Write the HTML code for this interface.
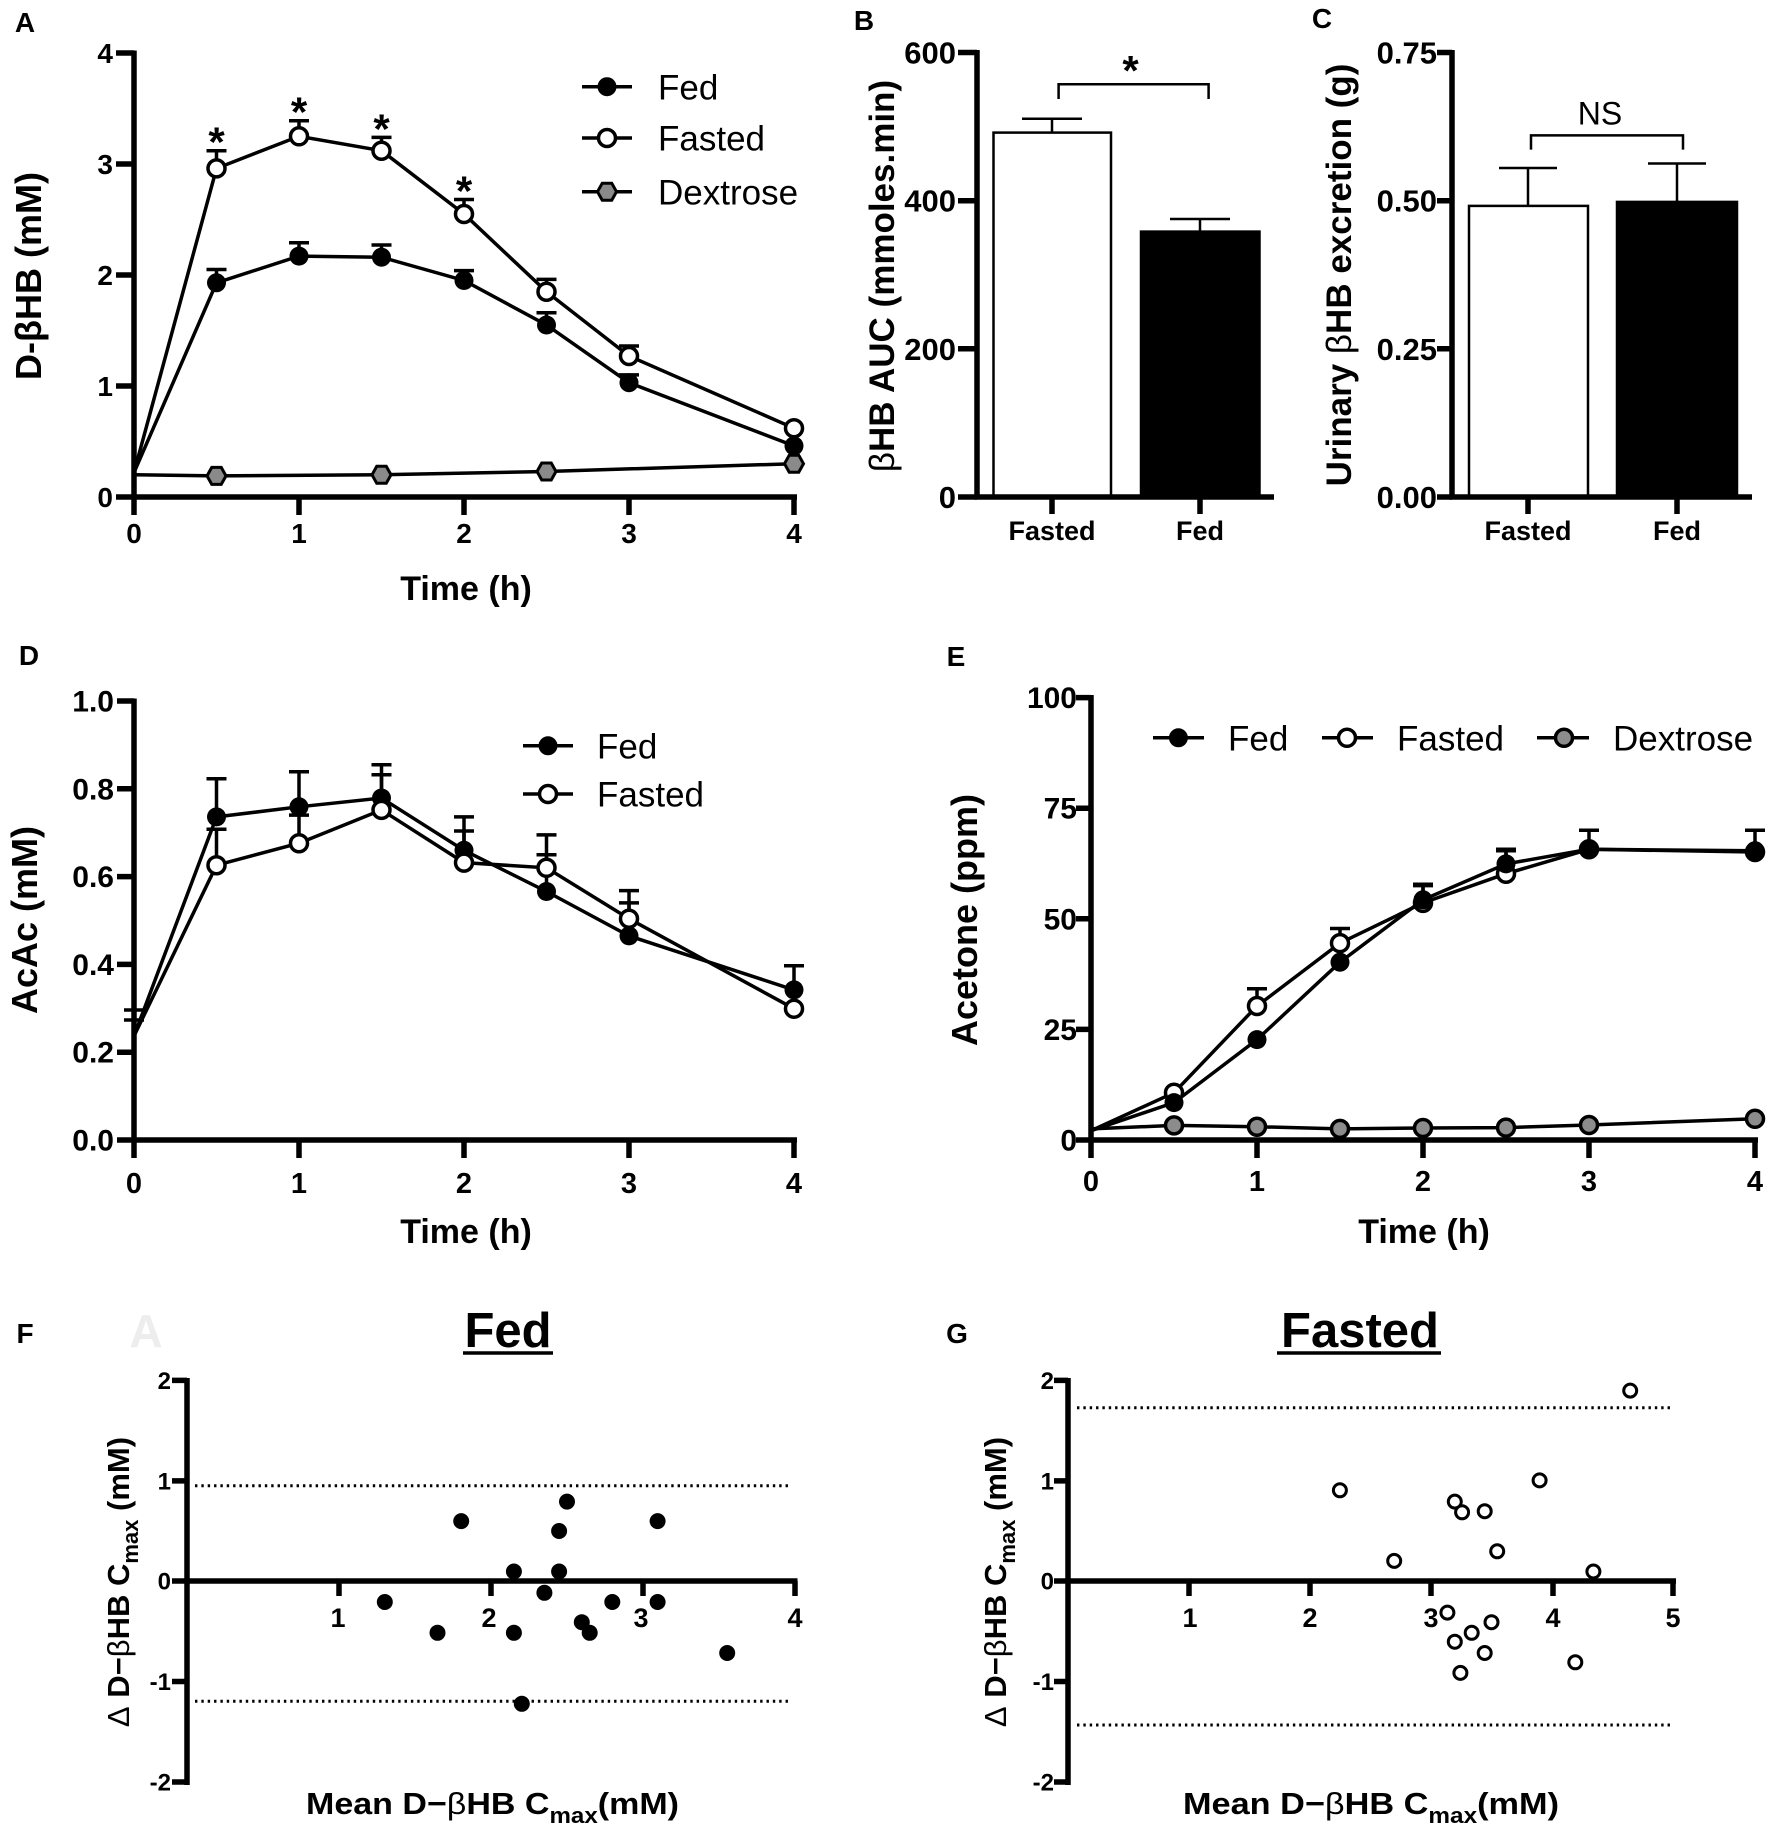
<!DOCTYPE html>
<html><head><meta charset="utf-8"><style>
html,body{margin:0;padding:0;background:#fff;}
svg{display:block;}
text{font-family:"Liberation Sans",Arial,sans-serif;fill:#000;}
.b{font-weight:bold;}
</style></head><body>
<svg width="1772" height="1835" viewBox="0 0 1772 1835" xmlns="http://www.w3.org/2000/svg">
<defs>
<circle id="fd" r="9.5" fill="#000"/>
<circle id="fs" r="8.5" fill="#fff" stroke="#000" stroke-width="3.5"/>
<circle id="dx" r="8.5" fill="#8c8c8c" stroke="#000" stroke-width="3.5"/>
<polygon id="hex" points="-9.5,0 -4.75,-8.5 4.75,-8.5 9.5,0 4.75,8.5 -4.75,8.5" fill="#8a8a8a" stroke="#000" stroke-width="3"/>
<circle id="fp" r="8" fill="#000"/>
<circle id="gp" r="6.5" fill="#fff" stroke="#000" stroke-width="3"/>
</defs>
<rect width="1772" height="1835" fill="#fff"/>

<!-- Panel labels -->
<g class="b" font-size="28" text-anchor="middle">
<text x="25" y="32">A</text>
<text x="864" y="30">B</text>
<text x="1322" y="28">C</text>
<text x="29" y="665">D</text>
<text x="956" y="666">E</text>
<text x="25" y="1343">F</text>
<text x="957" y="1343">G</text>
</g>

<!-- ================= PANEL A ================= -->
<g stroke="#000" stroke-width="5.5" fill="none">
<line x1="134" y1="50.5" x2="134" y2="499.5"/>
<line x1="131.5" y1="497" x2="797" y2="497"/>
<path d="M116 53H134M116 164H134M116 275H134M116 386H134M116 497H134"/>
<path d="M134 497V515M299 497V515M464 497V515M629 497V515M794 497V515"/>
</g>
<g class="b" font-size="28" text-anchor="end">
<text x="113" y="63">4</text><text x="113" y="174">3</text><text x="113" y="285">2</text><text x="113" y="396">1</text><text x="113" y="507">0</text>
</g>
<g class="b" font-size="28" text-anchor="middle">
<text x="134" y="543">0</text><text x="299" y="543">1</text><text x="464" y="543">2</text><text x="629" y="543">3</text><text x="794" y="543">4</text>
</g>
<text class="b" font-size="34" text-anchor="middle" x="466" y="600">Time (h)</text>
<text class="b" font-size="36" text-anchor="middle" transform="translate(41,276) rotate(-90)">D-βHB (mM)</text>

<g stroke="#000" stroke-width="3.5" fill="none">
<polyline points="134,474.8 216.5,475.9 381.5,474.8 546.5,471.5 794,463.7"/>
<polyline points="134,472.6 216.5,282.8 299,256.1 381.5,257.2 464,280.5 546.5,325 629,382.7 794,445.9"/>
<polyline points="134,472.6 216.5,168.4 299,136.3 381.5,150.7 464,214 546.5,291.7 629,356 794,428.2"/>
<path stroke-width="3.5" d="M216.5 282.8V269.5M206.5 269.5H226.5 M299 256.1V242.8M289 242.8H309 M381.5 257.2V245M371.5 245H391.5 M464 280.5V270.6M454 270.6H474 M546.5 325V312.7M536.5 312.7H556.5 M629 382.7V374.9M619 374.9H639"/>
<path stroke-width="3.5" d="M216.5 168.4V150.7M206.5 150.7H226.5 M299 136.3V120.7M289 120.7H309 M381.5 150.7V137.4M371.5 137.4H391.5 M464 214V199.5M454 199.5H474 M546.5 291.7V279.4M536.5 279.4H556.5 M629 356V346M619 346H639"/>
</g>
<use href="#hex" x="216.5" y="475.9"/><use href="#hex" x="381.5" y="474.8"/><use href="#hex" x="546.5" y="471.5"/><use href="#hex" x="794" y="463.7"/>
<use href="#fd" x="216.5" y="282.8"/><use href="#fd" x="299" y="256.1"/><use href="#fd" x="381.5" y="257.2"/><use href="#fd" x="464" y="280.5"/><use href="#fd" x="546.5" y="325"/><use href="#fd" x="629" y="382.7"/><use href="#fd" x="794" y="445.9"/>
<use href="#fs" x="216.5" y="168.4"/><use href="#fs" x="299" y="136.3"/><use href="#fs" x="381.5" y="150.7"/><use href="#fs" x="464" y="214"/><use href="#fs" x="546.5" y="291.7"/><use href="#fs" x="629" y="356"/><use href="#fs" x="794" y="428.2"/>
<g class="b" font-size="42" text-anchor="middle">
<text x="216.5" y="156.7">*</text><text x="299" y="126.7">*</text><text x="381.5" y="143.4">*</text><text x="464" y="205.5">*</text>
</g>
<!-- legend A -->
<g stroke="#000" stroke-width="3.5"><path d="M582 86.7H632M582 138H632M582 191.7H632"/></g>
<use href="#fd" x="607" y="86.7"/><use href="#fs" x="607" y="138"/><use href="#hex" x="607" y="191.7"/>
<g font-size="35"><text x="658" y="99.3">Fed</text><text x="658" y="150.6">Fasted</text><text x="658" y="204.3">Dextrose</text></g>

<!-- ================= PANEL B ================= -->
<rect x="993.5" y="132.6" width="117.5" height="364.4" fill="#fff" stroke="#000" stroke-width="2.5"/>
<rect x="1141" y="231.6" width="118.5" height="265.4" fill="#000" stroke="#000" stroke-width="2.5"/>
<g stroke="#000" stroke-width="2.5" fill="none">
<path d="M1052 132.6V118.8M1022 118.8H1082M1200 231.6V219M1170 219H1230"/>
<path d="M1058.6 99V84.3H1208.6V99"/>
</g>
<g stroke="#000" stroke-width="5.5" fill="none">
<line x1="977" y1="50" x2="977" y2="499.5"/>
<line x1="974.5" y1="497" x2="1274" y2="497"/>
<path d="M958 52.5H977M958 200.7H977M958 348.8H977M958 497H977"/>
<path d="M1052 497V514M1200 497V514"/>
</g>
<g class="b" font-size="31" text-anchor="end">
<text x="956" y="63.5">600</text><text x="956" y="211.7">400</text><text x="956" y="359.8">200</text><text x="956" y="508">0</text>
</g>
<g class="b" font-size="27" text-anchor="middle">
<text x="1052" y="540">Fasted</text><text x="1200" y="540">Fed</text>
</g>
<text class="b" font-size="42" text-anchor="middle" x="1130.5" y="85">*</text>
<text class="b" font-size="35" text-anchor="middle" transform="translate(894,276) rotate(-90)"><tspan font-weight="normal">β</tspan>HB AUC (mmoles.min)</text>

<!-- ================= PANEL C ================= -->
<rect x="1469" y="205.9" width="119" height="291.1" fill="#fff" stroke="#000" stroke-width="2.5"/>
<rect x="1617" y="201.9" width="120" height="295.1" fill="#000" stroke="#000" stroke-width="2.5"/>
<g stroke="#000" stroke-width="2.5" fill="none">
<path d="M1528 205.9V168M1499 168H1557M1677 201.9V163.5M1648 163.5H1706"/>
<path d="M1531 149.6V135.4H1683V149.6"/>
</g>
<g stroke="#000" stroke-width="5.5" fill="none">
<line x1="1452" y1="50" x2="1452" y2="499.5"/>
<line x1="1449.5" y1="497" x2="1752" y2="497"/>
<path d="M1437 52.5H1452M1437 200.7H1452M1437 348.8H1452M1437 497H1452"/>
<path d="M1528 497V514M1677 497V514"/>
</g>
<g class="b" font-size="31" text-anchor="end">
<text x="1437" y="63.5">0.75</text><text x="1437" y="211.7">0.50</text><text x="1437" y="359.8">0.25</text><text x="1437" y="508">0.00</text>
</g>
<g class="b" font-size="27" text-anchor="middle">
<text x="1528" y="540">Fasted</text><text x="1677" y="540">Fed</text>
</g>
<text font-size="32" text-anchor="middle" x="1600" y="124.3">NS</text>
<text class="b" font-size="35" text-anchor="middle" transform="translate(1351,275) rotate(-90)">Urinary <tspan font-weight="normal">β</tspan>HB excretion (g)</text>

<!-- ================= PANEL D ================= -->
<g stroke="#000" stroke-width="5.5" fill="none">
<line x1="134" y1="698.5" x2="134" y2="1142.5"/>
<line x1="131.5" y1="1140" x2="797" y2="1140"/>
<path d="M117 701H134M117 788.8H134M117 876.6H134M117 964.4H134M117 1052.2H134M117 1140H134"/>
<path d="M134 1140V1158M299 1140V1158M464 1140V1158M629 1140V1158M794 1140V1158"/>
</g>
<g class="b" font-size="30" text-anchor="end">
<text x="114" y="711.5">1.0</text><text x="114" y="799.3">0.8</text><text x="114" y="887.1">0.6</text><text x="114" y="974.9">0.4</text><text x="114" y="1062.7">0.2</text><text x="114" y="1150.5">0.0</text>
</g>
<g class="b" font-size="29" text-anchor="middle">
<text x="134" y="1193">0</text><text x="299" y="1193">1</text><text x="464" y="1193">2</text><text x="629" y="1193">3</text><text x="794" y="1193">4</text>
</g>
<text class="b" font-size="34" text-anchor="middle" x="466" y="1243">Time (h)</text>
<text class="b" font-size="36" text-anchor="middle" transform="translate(37,920) rotate(-90)">AcAc (mM)</text>
<g stroke="#000" stroke-width="3.5" fill="none">
<polyline points="134,1036 216.5,816.9 299,806.8 381.5,798 464,850.3 546.5,891.5 629,935.9 794,989.9"/>
<polyline points="134,1036 216.5,865.2 299,843.2 381.5,809.9 464,862.6 546.5,867.8 629,918.7 794,1008.7"/>
<path d="M134 1036V1010M124 1010H144M124 1020H144"/>
<path d="M216.5 816.9V778.7M206.5 778.7H226.5 M299 806.8V771.7M289 771.7H309 M381.5 798V764.7M371.5 764.7H391.5 M464 850.3V816.9M454 816.9H474 M546.5 891.5V854.7M536.5 854.7H556.5 M629 935.9V902.9M619 902.9H639 M794 989.9V965.7M784 965.7H804"/>
<path d="M216.5 865.2V829.2M206.5 829.2H226.5 M299 843.2V815.1M289 815.1H309 M381.5 809.9V774.8M371.5 774.8H391.5 M464 862.6V831M454 831H474 M546.5 867.8V834.9M536.5 834.9H556.5 M629 918.7V890.6M619 890.6H639"/>
</g>
<use href="#fd" x="216.5" y="816.9"/><use href="#fd" x="299" y="806.8"/><use href="#fd" x="381.5" y="798"/><use href="#fd" x="464" y="850.3"/><use href="#fd" x="546.5" y="891.5"/><use href="#fd" x="629" y="935.9"/><use href="#fd" x="794" y="989.9"/>
<use href="#fs" x="216.5" y="865.2"/><use href="#fs" x="299" y="843.2"/><use href="#fs" x="381.5" y="809.9"/><use href="#fs" x="464" y="862.6"/><use href="#fs" x="546.5" y="867.8"/><use href="#fs" x="629" y="918.7"/><use href="#fs" x="794" y="1008.7"/>
<g stroke="#000" stroke-width="3.5"><path d="M523 745.8H573M523 794H573"/></g>
<use href="#fd" x="548" y="745.8"/><use href="#fs" x="548" y="794"/>
<g font-size="35"><text x="597" y="758.4">Fed</text><text x="597" y="806.6">Fasted</text></g>

<!-- ================= PANEL E ================= -->
<g stroke="#000" stroke-width="5.5" fill="none">
<line x1="1091" y1="695" x2="1091" y2="1142.5"/>
<line x1="1088.5" y1="1140" x2="1758" y2="1140"/>
<path d="M1076 697.6H1091M1076 808.2H1091M1076 918.8H1091M1076 1029.4H1091M1076 1140H1091"/>
<path d="M1091 1140V1158M1257 1140V1158M1423 1140V1158M1589 1140V1158M1755 1140V1158"/>
</g>
<g class="b" font-size="30" text-anchor="end">
<text x="1077" y="708.1">100</text><text x="1077" y="818.7">75</text><text x="1077" y="929.3">50</text><text x="1077" y="1039.9">25</text><text x="1077" y="1150.5">0</text>
</g>
<g class="b" font-size="29" text-anchor="middle">
<text x="1091" y="1191">0</text><text x="1257" y="1191">1</text><text x="1423" y="1191">2</text><text x="1589" y="1191">3</text><text x="1755" y="1191">4</text>
</g>
<text class="b" font-size="34" text-anchor="middle" x="1424" y="1243">Time (h)</text>
<text class="b" font-size="36" text-anchor="middle" transform="translate(977,920) rotate(-90)">Acetone (ppm)</text>
<g stroke="#000" stroke-width="3.5" fill="none">
<polyline points="1091,1128.9 1174,1125.4 1257,1126.7 1340,1128.9 1423,1128 1506,1127.6 1589,1125 1755,1118.8"/>
<polyline points="1091,1130.7 1174,1102.6 1257,1039.6 1340,962.2 1423,899.8 1506,863.9 1589,849.3 1755,850.7"/>
<polyline points="1091,1130.7 1174,1092.7 1257,1006 1340,943.1 1423,902.9 1506,873.7 1589,849.3 1755,852"/>
<path d="M1423 899.8V885.6M1413 885.6H1433 M1506 863.9V849.3M1496 849.3H1516 M1589 849.3V830.3M1579 830.3H1599 M1755 850.7V830.3M1745 830.3H1765"/>
<path d="M1257 1006V988.7M1247 988.7H1267 M1340 943.1V928.5M1330 928.5H1350 M1423 902.9V884.3M1413 884.3H1433 M1506 873.7V850.7M1496 850.7H1516"/>
</g>
<use href="#dx" x="1174" y="1125.4"/><use href="#dx" x="1257" y="1126.7"/><use href="#dx" x="1340" y="1128.9"/><use href="#dx" x="1423" y="1128"/><use href="#dx" x="1506" y="1127.6"/><use href="#dx" x="1589" y="1125"/><use href="#dx" x="1755" y="1118.8"/>
<use href="#fs" x="1174" y="1092.7"/><use href="#fs" x="1257" y="1006"/><use href="#fs" x="1340" y="943.1"/><use href="#fs" x="1423" y="902.9"/><use href="#fs" x="1506" y="873.7"/><use href="#fs" x="1589" y="849.3"/><use href="#fs" x="1755" y="852"/>
<use href="#fd" x="1174" y="1102.6"/><use href="#fd" x="1257" y="1039.6"/><use href="#fd" x="1340" y="962.2"/><use href="#fd" x="1423" y="899.8"/><use href="#fd" x="1506" y="863.9"/><use href="#fd" x="1589" y="849.3"/><use href="#fd" x="1755" y="850.7"/>
<g stroke="#000" stroke-width="3.5"><path d="M1153 737.8H1204M1322 737.8H1373M1537 737.8H1589"/></g>
<use href="#fd" x="1178.4" y="737.8"/><use href="#fs" x="1347" y="737.8"/><use href="#dx" x="1564" y="737.8"/>
<g font-size="35"><text x="1228" y="750.4">Fed</text><text x="1397" y="750.4">Fasted</text><text x="1613" y="750.4">Dextrose</text></g>

<!-- ================= PANEL F ================= -->
<text class="b" font-size="46" text-anchor="middle" x="146" y="1347" style="fill:#ededed">A</text>
<text class="b" font-size="49" text-anchor="middle" x="508" y="1347">Fed</text>
<line x1="463" y1="1353" x2="553" y2="1353" stroke="#000" stroke-width="3.5"/>
<g stroke="#000" stroke-width="3" fill="none" stroke-dasharray="2.4 3.95">
<line x1="195" y1="1485.7" x2="791" y2="1485.7"/>
<line x1="195" y1="1701.3" x2="791" y2="1701.3"/>
</g>
<g stroke="#000" stroke-width="5.5" fill="none">
<line x1="187" y1="1378" x2="187" y2="1785"/>
<line x1="184.5" y1="1581" x2="797.5" y2="1581"/>
<path d="M172 1380.4H187M172 1480.9H187M172 1581H187M172 1681.5H187M172 1782H187"/>
<path d="M339 1581V1596M491 1581V1596M643 1581V1596M795 1581V1596"/>
</g>
<g class="b" font-size="24" text-anchor="end">
<text x="171" y="1389">2</text><text x="171" y="1489.5">1</text><text x="171" y="1589.6">0</text><text x="171" y="1690">-1</text><text x="171" y="1790.6">-2</text>
</g>
<g class="b" font-size="27" text-anchor="middle">
<text x="338" y="1627">1</text><text x="489" y="1627">2</text><text x="641" y="1627">3</text><text x="795" y="1627">4</text>
</g>
<use href="#fp" x="384.8" y="1602"/><use href="#fp" x="437.5" y="1632.8"/><use href="#fp" x="461.2" y="1521.1"/><use href="#fp" x="513.9" y="1571.5"/><use href="#fp" x="513.9" y="1632.8"/><use href="#fp" x="521.8" y="1703.8"/><use href="#fp" x="544.4" y="1592.8"/><use href="#fp" x="559.1" y="1531"/><use href="#fp" x="559.1" y="1571.5"/><use href="#fp" x="567" y="1501.6"/><use href="#fp" x="581.8" y="1622.2"/><use href="#fp" x="589.7" y="1632.8"/><use href="#fp" x="612.3" y="1602"/><use href="#fp" x="657.6" y="1521.1"/><use href="#fp" x="657.6" y="1602"/><use href="#fp" x="727.2" y="1653"/>
<text class="b" font-size="31" x="306" y="1814" textLength="373" lengthAdjust="spacingAndGlyphs">Mean D−<tspan font-weight="normal">β</tspan>HB  C<tspan font-size="22" dy="9">max</tspan><tspan dy="-9">(mM)</tspan></text>
<text class="b" font-size="31" text-anchor="middle" transform="translate(129,1582) rotate(-90)"><tspan font-weight="normal">Δ</tspan> D−<tspan font-weight="normal">β</tspan>HB  C<tspan font-size="22" dy="9">max</tspan><tspan dy="-9"> (mM)</tspan></text>

<!-- ================= PANEL G ================= -->
<text class="b" font-size="49" text-anchor="middle" x="1360" y="1347">Fasted</text>
<line x1="1277" y1="1353" x2="1441" y2="1353" stroke="#000" stroke-width="3.5"/>
<g stroke="#000" stroke-width="3" fill="none" stroke-dasharray="2.4 3.95">
<line x1="1077" y1="1407.7" x2="1670" y2="1407.7"/>
<line x1="1077" y1="1725" x2="1670" y2="1725"/>
</g>
<g stroke="#000" stroke-width="5.5" fill="none">
<line x1="1068" y1="1378" x2="1068" y2="1785"/>
<line x1="1065.5" y1="1581" x2="1676" y2="1581"/>
<path d="M1054 1380.4H1068M1054 1480.9H1068M1054 1581H1068M1054 1681.5H1068M1054 1782H1068"/>
<path d="M1189 1581V1596M1310 1581V1596M1431 1581V1596M1553 1581V1596M1673 1581V1596"/>
</g>
<g class="b" font-size="24" text-anchor="end">
<text x="1054" y="1389">2</text><text x="1054" y="1489.5">1</text><text x="1054" y="1589.6">0</text><text x="1054" y="1690">-1</text><text x="1054" y="1790.6">-2</text>
</g>
<g class="b" font-size="27" text-anchor="middle">
<text x="1190" y="1627">1</text><text x="1310" y="1627">2</text><text x="1431" y="1627">3</text><text x="1553" y="1627">4</text><text x="1673" y="1627">5</text>
</g>
<use href="#gp" x="1630.2" y="1390.6"/><use href="#gp" x="1339.9" y="1490.3"/><use href="#gp" x="1539.6" y="1480.4"/><use href="#gp" x="1454.8" y="1501.6"/><use href="#gp" x="1462.1" y="1512.3"/><use href="#gp" x="1484.7" y="1511.2"/><use href="#gp" x="1497.2" y="1551.3"/><use href="#gp" x="1394.2" y="1560.9"/><use href="#gp" x="1593.4" y="1571.5"/><use href="#gp" x="1447.4" y="1612.6"/><use href="#gp" x="1491.5" y="1622.2"/><use href="#gp" x="1471.7" y="1632.8"/><use href="#gp" x="1454.8" y="1641.7"/><use href="#gp" x="1484.7" y="1653"/><use href="#gp" x="1575.3" y="1662.3"/><use href="#gp" x="1460.4" y="1672.9"/>
<text class="b" font-size="31" x="1183" y="1814" textLength="376" lengthAdjust="spacingAndGlyphs">Mean D−<tspan font-weight="normal">β</tspan>HB  C<tspan font-size="22" dy="9">max</tspan><tspan dy="-9">(mM)</tspan></text>
<text class="b" font-size="31" text-anchor="middle" transform="translate(1006,1582) rotate(-90)"><tspan font-weight="normal">Δ</tspan> D−<tspan font-weight="normal">β</tspan>HB  C<tspan font-size="22" dy="9">max</tspan><tspan dy="-9"> (mM)</tspan></text>
</svg>
</body></html>
